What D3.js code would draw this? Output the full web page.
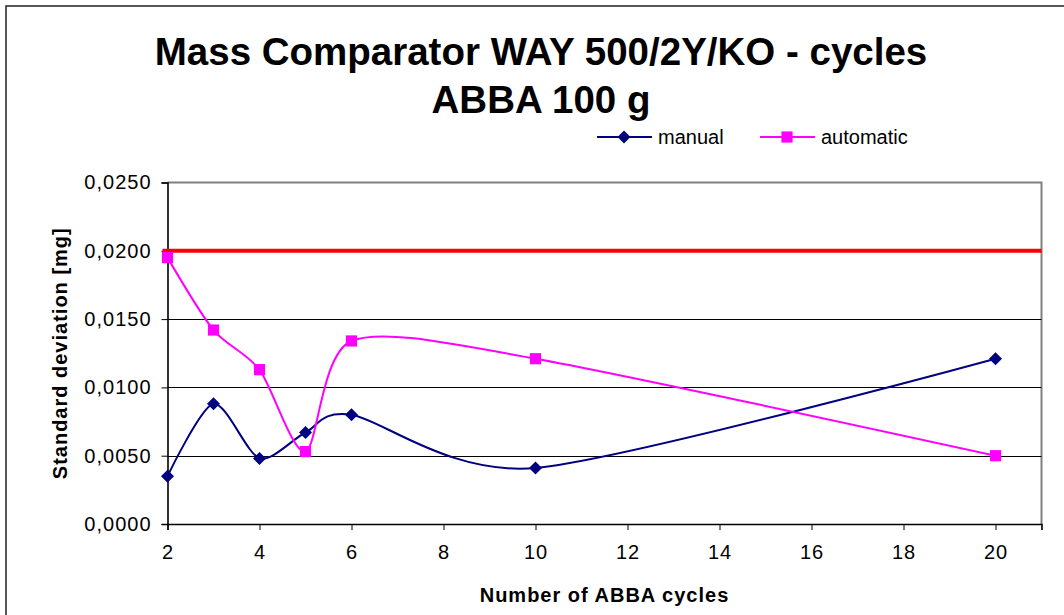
<!DOCTYPE html>
<html>
<head>
<meta charset="utf-8">
<script src="https://cdn.jsdelivr.net/npm/d3@7"></script>
<style>
  html, body { margin: 0; padding: 0; background: #fff; }
  svg { display: block; font-family: Arial, "Liberation Sans", sans-serif; }
</style>
</head>
<body>
<svg id="chart" width="1064" height="615"></svg>
<script>
const cycles = [2, 3, 4, 5, 6, 10, 20];
const manual = [0.0035, 0.0088, 0.0048, 0.0067, 0.0080, 0.0041, 0.0121];
const automatic = [0.0195, 0.0142, 0.0113, 0.0053, 0.0134, 0.0121, 0.0050];
const limitValue = 0.0200;
const xTicks = [2, 4, 6, 8, 10, 12, 14, 16, 18, 20];
const yTicks = [0, 0.005, 0.010, 0.015, 0.020, 0.025];
const titleLines = ["Mass Comparator WAY 500/2Y/KO - cycles", "ABBA 100 g"];
const xTitle = "Number of ABBA cycles";
const yTitle = "Standard deviation [mg]";
const seriesNames = ["manual", "automatic"];

const svg = d3.select("#chart");
const plot = { left: 167.5, top: 182.5, right: 1041.5, bottom: 524 };

const x = d3.scaleLinear().domain([2, 21]).range([plot.left, plot.right]);
const y = d3.scaleLinear().domain([0, 0.025]).range([plot.bottom, plot.top]);

// outer border
svg.append("rect").attr("x", 6).attr("y", 6).attr("width", 1080).attr("height", 640)
  .attr("fill", "none").attr("stroke", "#222").attr("stroke-width", 1.5);

// title
svg.append("g").selectAll("text").data(titleLines).join("text")
  .attr("x", 541).attr("y", (d, i) => 65 + i * 48)
  .attr("text-anchor", "middle").attr("font-weight", "bold").attr("font-size", 38.5)
  .attr("fill", "#000").text(d => d);

// plot frame (top & right gray)
svg.append("path")
  .attr("d", `M${plot.left},${plot.top}H${plot.right}V${plot.bottom}`)
  .attr("fill", "none").attr("stroke", "#808080").attr("stroke-width", 2);

// gridlines
svg.append("g").selectAll("line").data(yTicks.filter(v => v > 0 && v < 0.025)).join("line")
  .attr("x1", plot.left).attr("x2", plot.right)
  .attr("y1", d => Math.round(y(d)) + 0.5).attr("y2", d => Math.round(y(d)) + 0.5)
  .attr("stroke", "#000").attr("stroke-width", 1);

// y axis
const fmt = d => d3.format(".4f")(d).replace(".", ",");
const yAxis = svg.append("g").attr("transform", `translate(${plot.left},0)`)
  .call(d3.axisLeft(y).tickValues(yTicks).tickFormat(fmt).tickSize(6).tickPadding(10));
yAxis.select(".domain").attr("stroke", "#000").attr("stroke-width", 1.6);
yAxis.selectAll(".tick line").attr("stroke", "#000");
yAxis.selectAll("text").attr("font-size", 20).attr("letter-spacing", 1).attr("fill", "#000")
  .attr("font-family", "Arial, 'Liberation Sans', sans-serif");

// x axis
const xAxis = svg.append("g").attr("transform", `translate(0,${plot.bottom})`)
  .call(d3.axisBottom(x).tickValues(xTicks).tickSize(6).tickPadding(15));
xAxis.select(".domain").attr("stroke", "#000").attr("stroke-width", 1.6);
xAxis.selectAll(".tick line").attr("stroke", "#000");
xAxis.selectAll("text").attr("font-size", 20).attr("letter-spacing", 1).attr("fill", "#000")
  .attr("font-family", "Arial, 'Liberation Sans', sans-serif");

// axis titles
svg.append("text").attr("x", (plot.left + plot.right) / 2).attr("y", 602)
  .attr("text-anchor", "middle").attr("font-weight", "bold").attr("font-size", 20)
  .attr("letter-spacing", 1).text(xTitle);
svg.append("text").attr("transform", `translate(67,${(plot.top + plot.bottom) / 2}) rotate(-90)`)
  .attr("text-anchor", "middle").attr("font-weight", "bold").attr("font-size", 20)
  .attr("letter-spacing", 1).text(yTitle);

// limit line
svg.append("line")
  .attr("x1", x(2) - 5).attr("x2", x(21))
  .attr("y1", y(limitValue)).attr("y2", y(limitValue))
  .attr("stroke", "#ff0000").attr("stroke-width", 4);

// series
const line = d3.line().x(d => x(d[0])).y(d => y(d[1])).curve(d3.curveCardinal.tension(0.2));
const series = [
  { name: seriesNames[0], values: manual, color: "#000080", shape: d3.symbolSquare, size: 85, rot: 45 },
  { name: seriesNames[1], values: automatic, color: "#ff00ff", shape: d3.symbolSquare, size: 125, rot: 0 }
];
series.forEach(s => {
  const pts = cycles.map((c, i) => [c, s.values[i]]);
  svg.append("path").attr("d", line(pts)).attr("fill", "none")
    .attr("stroke", s.color).attr("stroke-width", 2);
});
series.forEach(s => {
  const pts = cycles.map((c, i) => [c, s.values[i]]);
  svg.append("g").selectAll("path").data(pts).join("path")
    .attr("transform", d => `translate(${x(d[0])},${y(d[1])}) rotate(${s.rot})`)
    .attr("d", d3.symbol().type(s.shape).size(s.size)).attr("fill", s.color);
});

// legend
const legendX = [597, 760];
series.forEach((s, i) => {
  const g = svg.append("g").attr("transform", `translate(${legendX[i]},137)`);
  g.append("line").attr("x1", 0).attr("x2", 55).attr("y1", 0).attr("y2", 0)
    .attr("stroke", s.color).attr("stroke-width", 2);
  g.append("path").attr("transform", `translate(27,0) rotate(${s.rot})`)
    .attr("d", d3.symbol().type(s.shape).size(s.size)).attr("fill", s.color);
  g.append("text").attr("x", 61).attr("y", 7).attr("font-size", 20).attr("fill", "#000").text(s.name);
});
</script>
</body>
</html>
